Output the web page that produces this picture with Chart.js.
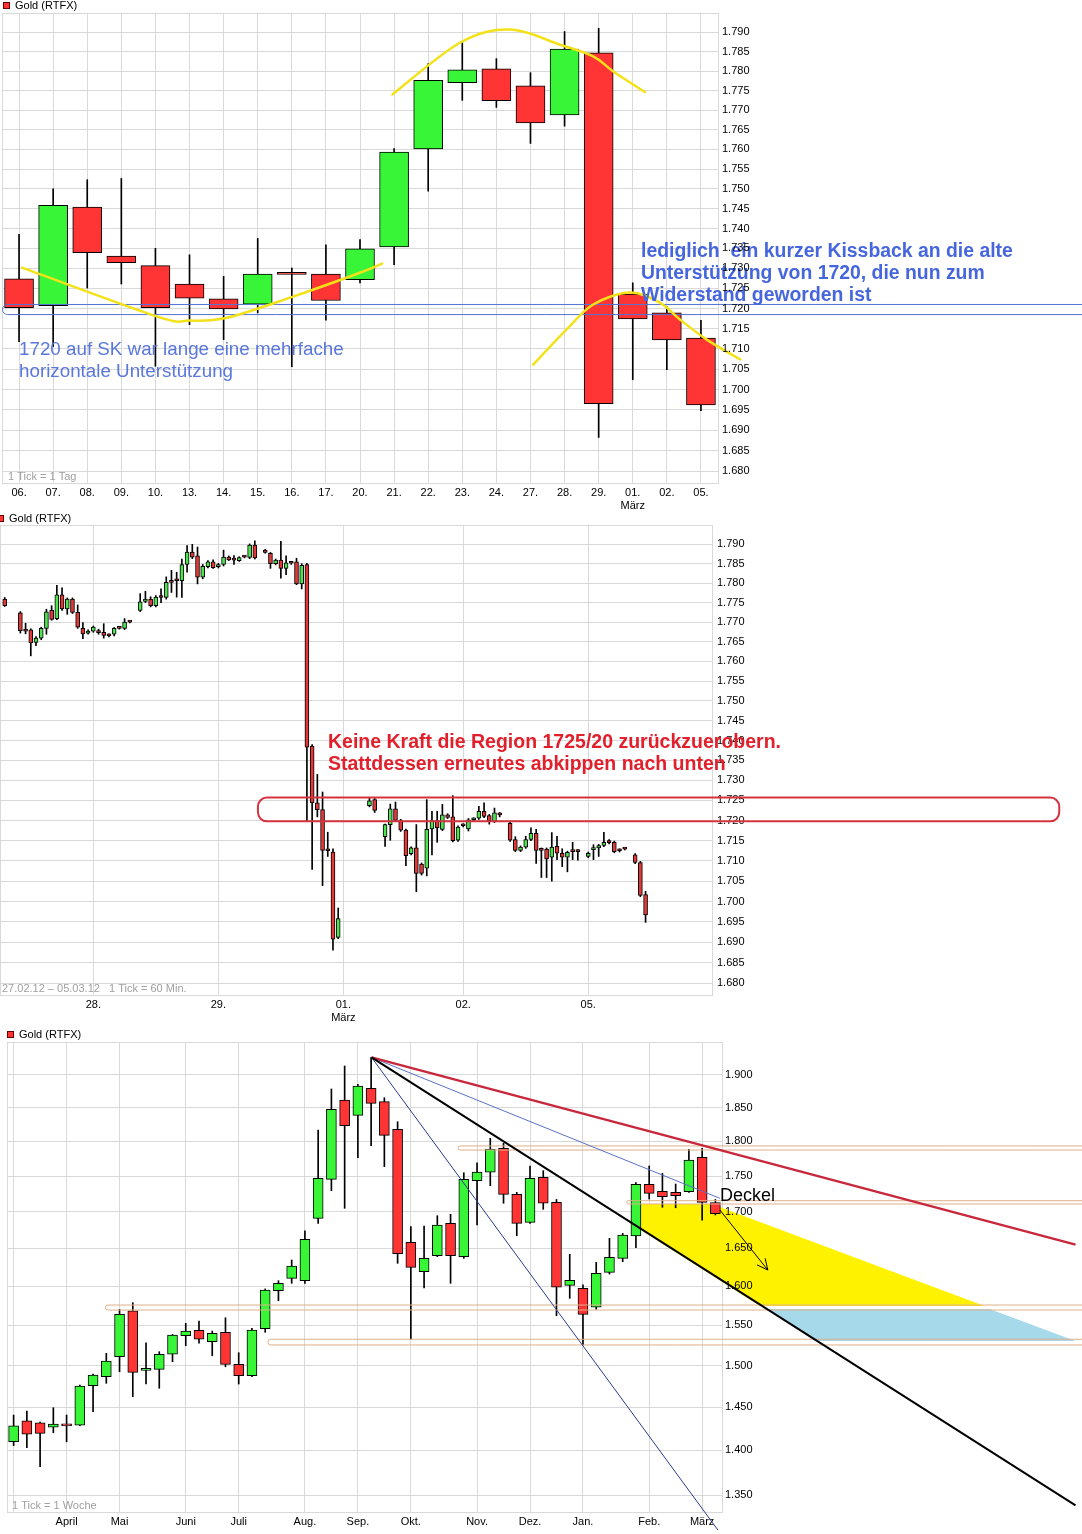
<!DOCTYPE html>
<html lang="de">
<head>
<meta charset="UTF-8"/>
<title>Gold (RTFX)</title>
<script src="https://cdn.jsdelivr.net/npm/chart.js@4.4.1/dist/chart.umd.min.js"></script>
<style>
  body{margin:0;background:#fff;width:1082px;height:1534px;position:relative;overflow:hidden}
  canvas{position:absolute;left:0}
  #c1{top:0} #c2{top:512px} #c3{top:1025px}
</style>
</head>
<body>
<canvas id="c1" width="1082" height="512"></canvas>
<canvas id="c2" width="1082" height="513"></canvas>
<canvas id="c3" width="1082" height="509"></canvas>
<script>
// ---------- chart 1: daily candles ----------
const dayLabels = ['06.','07.','08.','09.','10.','13.','14.','15.','16.','17.','20.','21.','22.','23.','24.','27.','28.','29.',['01.','März'],'02.','05.'];
const dOpen  = [1727.4,1720.7,1745.4,1733.1,1730.7,1726.1,1722.4,1721.1,1728.7,1728.6,1727.2,1735.4,1760.1,1777.0,1780.6,1776.2,1768.8,1784.7,1723.6,1718.9,1712.7];
const dHigh  = [1738.5,1750.0,1752.3,1752.6,1735.0,1733.4,1728.0,1737.5,1730.1,1735.9,1737.2,1760.2,1781.9,1787.5,1783.2,1779.6,1790.2,1791.0,1726.4,1720.5,1717.1];
const dLow   = [1711.8,1710.6,1725.1,1726.1,1705.7,1716.0,1712.3,1718.9,1705.6,1717.1,1726.4,1730.9,1749.4,1772.5,1770.7,1761.5,1765.9,1688.3,1702.4,1704.9,1694.8];
const dClose = [1720.2,1745.8,1733.9,1731.4,1720.2,1722.6,1719.9,1728.6,1728.5,1722.0,1734.9,1759.3,1777.6,1780.3,1772.4,1766.7,1785.7,1696.5,1717.4,1712.2,1696.2];
const dTicks = [1680,1685,1690,1695,1700,1705,1710,1715,1720,1725,1730,1735,1740,1745,1750,1755,1760,1765,1770,1775,1780,1785,1790];
const dSupport = [1721.0, 1718.5];
const dBowl  = [[0.09,1730.2],[4.05,1718.0],[5.01,1717.0],[6.1,1717.7],[7.95,1722.7],[10.0,1728.9],[10.65,1731.2]];
const dDome1 = [[10.95,1774.0],[12.93,1787.3],[14.4,1790.7],[15.87,1786.8],[16.84,1783.8],[17.43,1779.9],[18.36,1774.6]];
const dDome2 = [[15.08,1706.1],[16.06,1714.8],[16.84,1721.0],[17.92,1724.0],[18.8,1721.4],[19.38,1717.3],[20.17,1712.3],[21.15,1707.4]];

// ---------- chart 2: hourly candles ----------
const hSlot  = [0,3,4,5,6,7,8,9,10,11,12,13,14,15,16,17,18,19,20,21,22,23,24,26,27,28,29,30,31,32,33,34,35,36,37,38,39,40,41,42,43,44,45,46,47,48,50,51,52,53,54,55,56,57,58,59,60,61,62,63,64,70,71,73,74,75,76,77,78,79,80,81,82,83,84,85,86,87,88,89,90,91,92,93,94,95,97,98,99,100,101,102,103,104,105,106,107,108,109,110,112,113,114,115,116,117,118,119,121,122,123];
const hOpen  = [1775.9,1772.4,1767.9,1768.0,1764.8,1765.9,1768.4,1773.0,1770.9,1777.0,1773.4,1775.9,1772.5,1768.4,1767.2,1767.7,1767.8,1767.4,1766.7,1766.9,1768.5,1768.4,1770.1,1773.0,1775.3,1775.9,1774.2,1776.5,1776.3,1780.3,1780.7,1780.6,1784.8,1788.0,1787.0,1781.5,1784.2,1785.5,1784.2,1784.8,1786.7,1786.1,1785.8,1786.8,1786.6,1789.8,1788.5,1787.7,1785.0,1785.9,1783.8,1785.3,1785.5,1779.8,1784.8,1738.6,1724.4,1722.7,1712.8,1712.2,1691.2,1723.7,1725.2,1716.0,1719.0,1722.9,1720.0,1717.6,1711.8,1713.2,1709.2,1708.2,1717.9,1720.0,1717.8,1721.4,1720.9,1715.1,1718.9,1717.9,1720.2,1720.6,1722.3,1721.2,1719.8,1721.6,1719.3,1715.3,1712.6,1713.4,1715.3,1716.8,1713.0,1712.9,1710.9,1713.6,1711.9,1710.9,1712.5,1712.5,1711.1,1712.8,1713.2,1713.8,1714.8,1714.6,1712.7,1713.0,1711.5,1709.6,1701.7];
const hHigh  = [1776.3,1772.7,1769.7,1768.3,1766.3,1768.7,1773.3,1774.2,1779.4,1778.8,1776.2,1776.2,1774.4,1769.9,1768.0,1769.0,1768.2,1769.6,1767.0,1768.6,1768.7,1770.9,1770.3,1777.3,1777.9,1776.5,1776.8,1778.5,1781.6,1783.3,1782.8,1786.2,1789.7,1790.0,1789.3,1784.8,1785.8,1786.0,1785.1,1788.5,1787.0,1787.1,1786.8,1787.0,1790.1,1790.9,1788.7,1787.9,1786.2,1790.8,1787.0,1785.6,1786.4,1785.0,1785.1,1739.0,1731.5,1727.1,1717.1,1713.0,1698.4,1725.7,1725.5,1719.1,1724.1,1724.6,1720.3,1717.9,1713.5,1719.0,1709.5,1725.2,1722.3,1722.3,1724.0,1721.7,1726.2,1718.7,1719.2,1720.5,1720.7,1723.5,1724.4,1721.5,1723.1,1722.0,1719.6,1716.0,1713.7,1716.1,1718.2,1717.8,1713.2,1713.2,1717.0,1716.1,1713.0,1712.4,1714.6,1712.8,1712.2,1714.0,1714.1,1717.1,1715.3,1714.9,1713.0,1713.2,1711.8,1709.9,1702.5];
const hLow   = [1774.0,1767.2,1767.0,1761.4,1764.0,1765.5,1766.9,1770.5,1770.6,1773.0,1772.0,1772.2,1768.4,1765.8,1766.9,1767.4,1766.9,1765.9,1766.2,1766.5,1768.2,1768.1,1769.8,1772.7,1775.0,1773.9,1773.9,1775.0,1775.9,1777.6,1776.4,1776.3,1782.8,1786.3,1779.8,1781.1,1783.9,1783.8,1783.9,1784.4,1785.8,1784.8,1785.6,1786.5,1786.3,1786.2,1787.7,1783.8,1784.7,1781.3,1782.2,1784.8,1779.6,1778.5,1719.9,1707.9,1720.9,1703.9,1711.1,1688.1,1690.9,1723.4,1722.0,1713.6,1715.1,1719.8,1717.3,1708.8,1711.5,1702.4,1706.5,1706.3,1711.5,1714.6,1717.5,1720.5,1714.7,1714.8,1718.4,1717.4,1719.9,1720.3,1720.7,1719.1,1719.5,1720.9,1714.8,1712.3,1712.3,1713.1,1715.0,1709.4,1705.9,1705.9,1705.0,1710.3,1708.6,1707.3,1710.3,1710.2,1710.8,1710.3,1711.1,1713.5,1714.2,1712.0,1712.2,1712.7,1709.3,1701.2,1694.9];
const hClose = [1774.2,1767.8,1767.7,1764.7,1765.9,1768.4,1772.6,1770.7,1777.0,1773.4,1775.9,1772.5,1768.7,1767.0,1767.7,1768.7,1767.3,1766.6,1766.5,1768.4,1768.4,1770.0,1770.0,1775.2,1775.9,1774.2,1776.4,1776.3,1780.2,1780.2,1780.6,1784.8,1788.0,1786.7,1781.5,1784.3,1785.5,1784.0,1784.8,1786.7,1786.0,1785.9,1786.6,1786.7,1789.8,1786.5,1787.9,1785.0,1785.9,1783.8,1785.2,1785.1,1779.8,1784.6,1738.3,1724.4,1722.7,1712.6,1712.5,1690.8,1695.8,1724.9,1722.5,1719.0,1722.9,1720.0,1717.6,1711.3,1713.2,1706.9,1706.9,1717.8,1719.9,1718.2,1721.4,1720.8,1715.0,1718.4,1718.7,1720.2,1720.4,1722.3,1721.0,1719.9,1721.9,1721.4,1715.1,1712.6,1713.4,1715.3,1716.8,1712.6,1712.6,1710.5,1713.4,1711.9,1710.9,1712.1,1712.3,1712.3,1711.9,1713.2,1713.8,1714.6,1714.5,1712.3,1712.5,1712.9,1709.6,1701.5,1696.7];
const hDayTicks  = [17, 41, 65, 88, 112];
const hDayLabels = ['28.', '29.', ['01.', 'März'], '02.', '05.'];
const hZone = [1725.7, 1719.8];

// ---------- chart 3: weekly candles ----------
const wOpen  = [1409.8,1434.1,1431.8,1426.5,1428.5,1429.1,1475.6,1486.4,1510.8,1568.4,1494.2,1495.4,1513.8,1536.9,1543.6,1529.4,1541.1,1501.5,1487.6,1545.6,1594.1,1610.3,1607.2,1690.9,1745.4,1861.8,1838.7,1879.6,1859.2,1817.9,1658.2,1619.0,1640.2,1684.0,1638.9,1743.4,1755.4,1790.0,1724.2,1685.4,1748.2,1713.0,1601.2,1597.3,1572.8,1618.2,1636.7,1666.7,1738.3,1728.4,1727.0,1727.9,1776.9,1712.5];
const wHigh  = [1440.8,1445.5,1432.5,1449.4,1440.8,1476.4,1489.5,1515.0,1570.2,1578.7,1528.1,1517.0,1538.5,1552.4,1555.3,1542.7,1559.5,1515.7,1546.0,1596.5,1607.2,1634.5,1673.9,1816.8,1878.5,1914.0,1885.7,1927.5,1865.2,1829.1,1679.4,1680.3,1694.5,1696.4,1754.8,1769.1,1804.6,1797.3,1727.0,1764.4,1757.7,1717.0,1642.1,1601.7,1631.4,1663.6,1670.4,1740.6,1764.4,1754.0,1738.7,1788.5,1790.0,1717.0];
const wLow   = [1405.3,1403.0,1381.5,1420.2,1409.8,1428.3,1444.7,1478.5,1492.5,1462.4,1477.6,1472.5,1504.7,1524.4,1527.4,1512.0,1498.5,1477.6,1486.4,1541.1,1581.2,1603.8,1603.8,1684.0,1729.3,1704.7,1776.4,1793.8,1763.4,1630.1,1532.4,1597.7,1638.9,1603.8,1636.7,1681.7,1736.4,1711.7,1667.1,1684.0,1703.3,1562.1,1584.3,1525.4,1570.2,1615.9,1632.2,1650.9,1717.6,1706.1,1705.5,1727.0,1688.5,1695.5];
const wClose = [1428.3,1418.4,1419.5,1430.3,1428.1,1475.2,1488.5,1505.5,1563.8,1491.7,1494.8,1513.8,1537.7,1542.7,1532.4,1539.9,1501.5,1487.6,1544.0,1595.0,1603.8,1626.5,1662.2,1746.8,1847.7,1823.2,1883.1,1856.7,1809.0,1642.9,1624.8,1636.7,1681.7,1640.2,1745.4,1755.8,1789.0,1724.2,1684.0,1746.8,1711.7,1598.6,1607.7,1563.8,1616.9,1638.1,1668.1,1738.3,1725.6,1720.9,1722.3,1773.0,1713.0,1697.2];
const wMonthTicks  = [0, 4, 8, 13, 17, 22, 26, 30, 35, 39, 43, 48, 52];
const wMonthLabels = ['', 'April', 'Mai', 'Juni', 'Juli', 'Aug.', 'Sep.', 'Okt.', 'Nov.', 'Dez.', 'Jan.', 'Feb.', 'März'];
const wTicks = [1350,1400,1450,1500,1550,1600,1650,1700,1750,1800,1850,1900];
const wPeak = [27.03, 1927.5];
const wRedEnd = [80.2, 1655.1];
const wBlackEnd = [80.2, 1338.6];
const wBlueEnd = [53.34, 1718.6];
const wNavyEnd = [53.19, 1312.1];
const wBands = [[33.56, 1793.4, 1787.5], [46.3, 1715.3, 1710.7], [6.93, 1575.7, 1569.3], [19.2, 1532.4, 1525.3]];
const wYellow = [[47.37,1710.7],[52.73,1710.7],[73.33,1574.4],[56.36,1574.4],[47.37,1674.9]];
const wBlue = [[56.9,1570.6],[73.7,1570.6],[80.2,1530.2],[60.5,1530.2]];
const wArrow = [[53.34,1702.3],[56.96,1621.2]];

// ---------- helpers ----------
const GRID = '#d9d9d9';
const FONT = "'Liberation Sans', Arial, sans-serif";
Chart.defaults.font.family = FONT;
Chart.defaults.font.size = 11;
Chart.defaults.color = '#000';

const fmt = v => String(Math.round(v)).replace(/^(\d)(\d{3})$/, '$1.$2');
const P = (ch, x, v) => [ch.scales.x.getPixelForValue(x), ch.scales.y.getPixelForValue(v)];

function candles(xs, o, h, l, c, w, up, down) {
  return [
    { data: xs.map((x, i) => ({x, y: [o[i], c[i]]})),
      backgroundColor: o.map((v, i) => c[i] >= v ? up : down),
      borderColor: '#000', borderWidth: 1, borderSkipped: false,
      barThickness: w, grouped: false, minBarLength: 2, order: 1 },
    { data: xs.map((x, i) => ({x, y: [l[i], h[i]]})),
      backgroundColor: '#000', borderWidth: 0, barThickness: 1, grouped: false, order: 2 }
  ];
}

function xAxis(min, max, ticks, labels, height) {
  return {
    type: 'linear', min, max, offset: false,
    afterBuildTicks: s => { s.ticks = ticks.map(v => ({value: v})); },
    afterFit: s => { s.height = height; },
    ticks: { autoSkip: false, maxRotation: 0, padding: 3, callback: (v, i) => labels[i] },
    grid: { color: GRID, drawTicks: false, offset: false },
    border: { color: GRID }
  };
}

function yAxis(min, max, ticks, pad, z) {
  return {
    type: 'logarithmic', position: 'right', min, max,
    afterBuildTicks: s => { s.ticks = ticks.map(v => ({value: v})); },
    afterFit: s => { s.width = 40; },
    ticks: { autoSkip: false, padding: pad, z: z, callback: v => fmt(v) },
    grid: { color: GRID, drawTicks: false },
    border: { color: GRID }
  };
}

function smooth(ctx, pts) {
  ctx.moveTo(pts[0][0], pts[0][1]);
  for (let i = 0; i < pts.length - 1; i++) {
    const p0 = pts[i - 1] || pts[i], p1 = pts[i], p2 = pts[i + 1], p3 = pts[i + 2] || p2;
    ctx.bezierCurveTo(p1[0] + (p2[0] - p0[0]) / 6, p1[1] + (p2[1] - p0[1]) / 6,
                      p2[0] - (p3[0] - p1[0]) / 6, p2[1] - (p3[1] - p1[1]) / 6, p2[0], p2[1]);
  }
}

function rrect(ctx, x, y, w, h, r) {
  ctx.beginPath();
  ctx.moveTo(x + r, y);
  ctx.lineTo(x + w - r, y); ctx.arcTo(x + w, y, x + w, y + r, r);
  ctx.lineTo(x + w, y + h - r); ctx.arcTo(x + w, y + h, x + w - r, y + h, r);
  ctx.lineTo(x + r, y + h); ctx.arcTo(x, y + h, x, y + h - r, r);
  ctx.lineTo(x, y + r); ctx.arcTo(x, y, x + r, y, r);
  ctx.closePath();
}

function header(ctx, x, y) {
  ctx.fillStyle = '#ff3333'; ctx.strokeStyle = '#600'; ctx.lineWidth = 1;
  ctx.fillRect(x, y, 7, 7); ctx.strokeRect(x + 0.5, y + 0.5, 6, 6);
  ctx.fillStyle = '#000'; ctx.font = '11px ' + FONT; ctx.textBaseline = 'middle'; ctx.textAlign = 'left';
  ctx.fillText('Gold (RTFX)', x + 12, y + 4);
}

function note(ctx, text, x, y) {
  ctx.fillStyle = '#a0a0a0'; ctx.font = '11px ' + FONT; ctx.textBaseline = 'middle'; ctx.textAlign = 'left';
  ctx.fillText(text, x, y);
}

function lines(ctx, txt, x, y0, dy) {
  txt.forEach((t, i) => ctx.fillText(t, x, y0 + i * dy));
}

const frame = {
  id: 'frame',
  beforeDatasetsDraw(ch) {
    const a = ch.chartArea, ctx = ch.ctx;
    ctx.save(); ctx.strokeStyle = GRID; ctx.lineWidth = 1;
    ctx.strokeRect(Math.round(a.left) + 0.5, Math.round(a.top) + 0.5, Math.round(a.right - a.left), Math.round(a.bottom - a.top));
    ctx.restore();
  }
};

const baseOpts = (pad, x, y) => ({
  responsive: false, devicePixelRatio: 1, animation: false, events: [],
  layout: { padding: pad },
  plugins: { legend: { display: false }, tooltip: { enabled: false } },
  scales: { x, y }
});

// ---------- chart 1 ----------
new Chart(document.getElementById('c1'), {
  type: 'bar',
  data: { datasets: candles(dayLabels.map((_, i) => i), dOpen, dHigh, dLow, dClose, 29, '#38f538', '#ff3434') },
  options: baseOpts({left: 2, top: 13, right: 324, bottom: 0},
    xAxis(-0.5, 20.5, dayLabels.map((_, i) => i), dayLabels, 29),
    yAxis(1677.2, 1795.0, dTicks, 4, 1)),
  plugins: [frame, {
    id: 'notes1',
    afterDatasetsDraw(ch) {
      const ctx = ch.ctx; ctx.save();
      const yA = P(ch, 0, dSupport[0])[1], yB = P(ch, 0, dSupport[1])[1];
      ctx.strokeStyle = '#5673d4'; ctx.lineWidth = 1;
      rrect(ctx, ch.chartArea.left + 0.5, yA, ch.width + 40, yB - yA, (yB - yA) / 2); ctx.stroke();
      ctx.strokeStyle = '#f3e21a'; ctx.lineWidth = 2.5; ctx.lineCap = 'round';
      [dBowl, dDome1, dDome2].forEach(c => { ctx.beginPath(); smooth(ctx, c.map(p => P(ch, p[0], p[1]))); ctx.stroke(); });
      ctx.textBaseline = 'alphabetic'; ctx.textAlign = 'left';
      ctx.fillStyle = '#5a77dc'; ctx.font = '18.8px ' + FONT;
      lines(ctx, ['1720 auf SK war lange eine mehrfache', 'horizontale Unterstützung'], 19, 355, 22);
      ctx.fillStyle = '#4666de'; ctx.font = 'bold 19.4px ' + FONT;
      lines(ctx, ['lediglich  ein kurzer Kissback an die alte', 'Unterstützung von 1720, die nun zum', 'Widerstand geworden ist'], 641, 257, 22);
      header(ctx, 3, 2);
      note(ctx, '1 Tick = 1 Tag', 8, 477);
      ctx.restore();
    }
  }]
});

// ---------- chart 2 ----------
new Chart(document.getElementById('c2'), {
  type: 'bar',
  data: { datasets: candles(hSlot, hOpen, hHigh, hLow, hClose, 4, '#4fe34f', '#e23838') },
  options: baseOpts({left: 0, top: 13, right: 330, bottom: 0},
    xAxis(-0.91, 135.75, hDayTicks, hDayLabels, 30),
    yAxis(1677.2, 1795.0, dTicks, 5, 0)),
  plugins: [frame, {
    id: 'notes2',
    afterDatasetsDraw(ch) {
      const ctx = ch.ctx; ctx.save();
      const [x0, yA] = P(ch, 48.6, hZone[0]);
      const [x1, yB] = P(ch, 202.4, hZone[1]);
      ctx.strokeStyle = '#d3343f'; ctx.lineWidth = 2;
      rrect(ctx, x0, yA, x1 - x0, yB - yA, 9); ctx.stroke();
      ctx.fillStyle = '#e2202c'; ctx.font = 'bold 19.5px ' + FONT; ctx.textBaseline = 'alphabetic'; ctx.textAlign = 'left';
      lines(ctx, ['Keine Kraft die Region 1725/20 zurückzuerobern.', 'Stattdessen erneutes abkippen nach unten'], 328, 236, 22);
      header(ctx, -3, 3);
      note(ctx, '27.02.12 \u2013 05.03.12   1 Tick = 60 Min.', 2, 477);
      ctx.restore();
    }
  }]
});

// ---------- chart 3 ----------
new Chart(document.getElementById('c3'), {
  type: 'bar',
  data: { datasets: candles(wOpen.map((_, i) => i), wOpen, wHigh, wLow, wClose, 10, '#38f538', '#ff3434') },
  options: baseOpts({left: 7, top: 17, right: 320, bottom: 0},
    xAxis(-0.5, 53.5, wMonthTicks, wMonthLabels, 22),
    yAxis(1331.5, 1951.7, wTicks, 3, 1)),
  plugins: [frame, {
    id: 'fill3',
    beforeDatasetsDraw(ch) {
      const ctx = ch.ctx; ctx.save();
      [[wYellow, '#fff200'], [wBlue, '#a6d9ea']].forEach(([poly, col]) => {
        ctx.beginPath();
        poly.forEach((p, i) => { const q = P(ch, p[0], p[1]); i ? ctx.lineTo(q[0], q[1]) : ctx.moveTo(q[0], q[1]); });
        ctx.closePath(); ctx.fillStyle = col; ctx.fill();
      });
      ctx.restore();
    },
    afterDatasetsDraw(ch) {
      const ctx = ch.ctx; ctx.save();
      ctx.strokeStyle = '#deb088'; ctx.lineWidth = 1;
      wBands.forEach(b => {
        const [x0, yA] = P(ch, b[0], b[1]); const yB = P(ch, b[0], b[2])[1];
        rrect(ctx, x0, yA, ch.width + 40 - x0, yB - yA, (yB - yA) / 2); ctx.stroke();
      });
      const seg = (a, b, col, w) => {
        const p = P(ch, a[0], a[1]), q = P(ch, b[0], b[1]);
        ctx.beginPath(); ctx.moveTo(p[0], p[1]); ctx.lineTo(q[0], q[1]);
        ctx.strokeStyle = col; ctx.lineWidth = w; ctx.stroke();
      };
      seg(wPeak, wNavyEnd, '#2a3a8a', 1);
      seg(wPeak, wBlueEnd, '#5a70c8', 1);
      seg(wPeak, wRedEnd, '#c8283c', 2.5);
      seg(wPeak, wBlackEnd, '#000', 2);
      seg(wArrow[0], wArrow[1], '#000', 1);
      const a = P(ch, wArrow[0][0], wArrow[0][1]), b = P(ch, wArrow[1][0], wArrow[1][1]);
      const ang = Math.atan2(b[1] - a[1], b[0] - a[0]);
      ctx.beginPath();
      ctx.moveTo(b[0] - 12 * Math.cos(ang - 0.45), b[1] - 12 * Math.sin(ang - 0.45));
      ctx.lineTo(b[0], b[1]);
      ctx.lineTo(b[0] - 12 * Math.cos(ang + 0.45), b[1] - 12 * Math.sin(ang + 0.45));
      ctx.stroke();
      ctx.fillStyle = '#000'; ctx.font = '18px ' + FONT; ctx.textBaseline = 'alphabetic'; ctx.textAlign = 'left';
      ctx.fillText('Deckel', 720, 176);
      header(ctx, 7, 6);
      note(ctx, '1 Tick = 1 Woche', 12, 481);
      ctx.restore();
    }
  }]
});
</script>
</body>
</html>
